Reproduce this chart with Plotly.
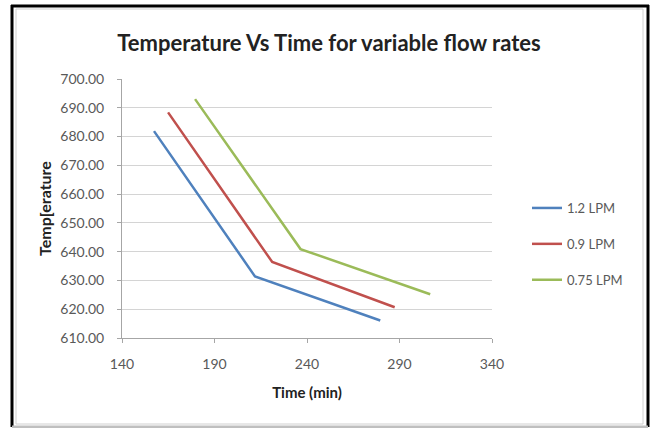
import plotly.graph_objects as go

series_names = ["1.2 LPM", "0.9 LPM", "0.75 LPM"]
time_12 = [157.3, 211.9, 279.6]
temp_12 = [681.9, 631.4, 616.1]
time_09 = [164.9, 221.2, 287.4]
temp_09 = [688.4, 636.4, 620.7]
time_075 = [179.5, 236.5, 306.6]
temp_075 = [693.0, 640.9, 625.2]
x_ticks = [140, 190, 240, 290, 340]
y_ticks = [610, 620, 630, 640, 650, 660, 670, 680, 690, 700]
colors = ["#4F81BD", "#C0504D", "#9BBB59"]

W, H = 650, 428
L, R, T, B = 122, 158, 79, 90
pw, ph = W - L - R, H - T - B

def px(x):
    return (x - L) / pw

def py(y):
    return (H - B - y) / ph

fig = go.Figure()
for i, (xs, ys, name, c) in enumerate(zip([time_12, time_09, time_075], [temp_12, temp_09, temp_075], series_names, colors)):
    fig.add_trace(go.Scatter(x=xs, y=ys, mode="lines", name=name, legendgroup=f"g{i}",
                             line=dict(color=c, width=2.5)))

font_family = "Lato, Open Sans, sans-serif"
fig.update_layout(
    width=W, height=H,
    margin=dict(l=L, r=R, t=T, b=B),
    paper_bgcolor="white", plot_bgcolor="white",
    title=dict(text="<b>Temperature Vs Time for variable flow rates</b>",
               xref="container", yref="container",
               x=329 / W, xanchor="center", y=1 - 43 / H, yanchor="middle",
               font=dict(family=font_family, size=22, color="#222222")),
    xaxis=dict(range=[140, 340], tickvals=x_ticks, ticktext=[str(v) for v in x_ticks],
               showgrid=False, zeroline=False, showline=True, linecolor="#a6a6a6", linewidth=1,
               ticks="outside", ticklen=4, tickcolor="#a6a6a6", ticklabelstandoff=9,
               tickfont=dict(family=font_family, size=14, color="#595959"),
               title=dict(text="<b>Time (min)</b>", standoff=16,
                          font=dict(family=font_family, size=15, color="#222222"))),
    yaxis=dict(range=[610, 700], tickvals=y_ticks, ticktext=[f"{v:.2f}" for v in y_ticks],
               showgrid=True, gridcolor="#d4d4d4", gridwidth=1, zeroline=False,
               showline=True, linecolor="#a6a6a6", linewidth=1,
               ticks="outside", ticklen=4, tickcolor="#a6a6a6", ticklabelstandoff=10,
               tickfont=dict(family=font_family, size=14, color="#595959"),
               title=dict(text="<b>Temp[erature</b>", standoff=4,
                          font=dict(family=font_family, size=16, color="#222222"))),
    legend=dict(x=px(527), y=py(193), xanchor="left", yanchor="top",
                font=dict(family=font_family, size=13, color="#595959"),
                bgcolor="rgba(0,0,0,0)", tracegroupgap=16, itemwidth=30),
    showlegend=True,
)

# chart frame
fig.add_shape(type="rect", xref="paper", yref="paper",
              x0=px(16), x1=px(643), y0=py(424), y1=py(9),
              line=dict(color="#d0d0d0", width=1), layer="below")
for (x0, y0, x1, y1, c) in [(11, 6, 649, 6, "black"), (12, 5, 12, 427, "black"),
                             (648, 5, 648, 427, "black"), (12, 427, 648, 427, "#bfbfbf")]:
    fig.add_shape(type="line", xref="paper", yref="paper",
                  x0=px(x0), y0=py(y0), x1=px(x1), y1=py(y1),
                  line=dict(color=c, width=3))

fig.write_html("out.html", config={"displayModeBar": False},
               post_script="document.body.style.margin='0';document.body.style.padding='0';")
